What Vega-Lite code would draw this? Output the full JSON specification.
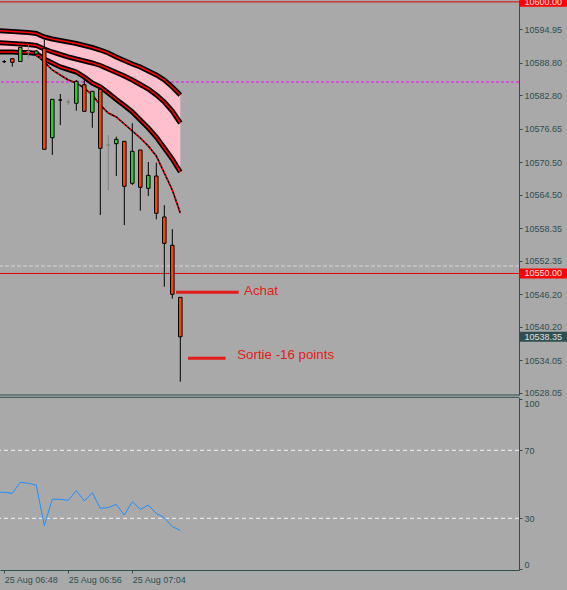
{
  "$schema": "https://vega.github.io/schema/vega-lite/v6.json",
  "width": 519,
  "height": 570,
  "autosize": {"type": "none"},
  "padding": {"left": 0, "top": 0, "right": 48, "bottom": 20},
  "background": "#A9A9A9",
  "config": {
    "view": {"stroke": null},
    "font": "Liberation Sans",
    "axisX": {"grid": false, "labelAlign": "left", "labelBaseline": "top", "tickSize": 3, "labelPadding": 2, "labelFlush": false, "labelOverlap": false, "domainColor": "#2F4F4F", "tickColor": "#2F4F4F", "labelColor": "#2F4F4F", "labelFontSize": 9, "labelFont": "Liberation Sans"},
    "axisY": {"grid": false, "tickSize": 3, "labelPadding": 2, "domainColor": "#2F4F4F", "tickColor": "#2F4F4F", "labelColor": "#2F4F4F", "labelFontSize": 9, "labelFont": "Liberation Sans", "labelOverlap": false}
  },
  "datasets": {
    "bars": [
      {"t": "2016-08-25T06:48:00", "o": 10588.99, "h": 10589.30, "l": 10588.75, "c": 10588.99, "type": "doji"},
      {"t": "2016-08-25T06:49:00", "o": 10589.54, "h": 10589.54, "l": 10588.07, "c": 10588.87, "type": "bear"},
      {"t": "2016-08-25T06:50:00", "o": 10589.02, "h": 10591.64, "l": 10589.02, "c": 10591.64, "type": "bull"},
      {"t": "2016-08-25T06:51:00", "o": 10590.83, "h": 10592.06, "l": 10589.61, "c": 10590.83, "type": "gdoji"},
      {"t": "2016-08-25T06:52:00", "o": 10590.40, "h": 10591.14, "l": 10590.22, "c": 10590.95, "type": "bull"},
      {"t": "2016-08-25T06:53:00", "o": 10591.45, "h": 10592.98, "l": 10572.86, "c": 10572.86, "type": "bear"},
      {"t": "2016-08-25T06:54:00", "o": 10574.99, "h": 10582.06, "l": 10571.81, "c": 10582.06, "type": "bull"},
      {"t": "2016-08-25T06:55:00", "o": 10581.93, "h": 10583.04, "l": 10577.33, "c": 10581.93, "type": "doji"},
      {"t": "2016-08-25T06:56:00", "o": 10581.57, "h": 10582.06, "l": 10581.01, "c": 10581.57, "type": "gdoji"},
      {"t": "2016-08-25T06:57:00", "o": 10581.33, "h": 10585.60, "l": 10579.96, "c": 10585.38, "type": "bull"},
      {"t": "2016-08-25T06:58:00", "o": 10584.75, "h": 10585.80, "l": 10579.85, "c": 10579.85, "type": "bear"},
      {"t": "2016-08-25T06:59:00", "o": 10579.67, "h": 10583.59, "l": 10576.83, "c": 10583.54, "type": "bull"},
      {"t": "2016-08-25T07:00:00", "o": 10583.90, "h": 10583.90, "l": 10560.76, "c": 10573.04, "type": "bear"},
      {"t": "2016-08-25T07:01:00", "o": 10573.65, "h": 10575.49, "l": 10565.37, "c": 10573.65, "type": "gdoji"},
      {"t": "2016-08-25T07:02:00", "o": 10573.89, "h": 10575.18, "l": 10567.94, "c": 10574.70, "type": "bull"},
      {"t": "2016-08-25T07:03:00", "o": 10574.33, "h": 10574.33, "l": 10558.92, "c": 10566.05, "type": "bear"},
      {"t": "2016-08-25T07:04:00", "o": 10566.60, "h": 10577.65, "l": 10566.29, "c": 10572.49, "type": "bull"},
      {"t": "2016-08-25T07:05:00", "o": 10572.73, "h": 10572.73, "l": 10561.56, "c": 10565.86, "type": "bear"},
      {"t": "2016-08-25T07:06:00", "o": 10565.68, "h": 10570.52, "l": 10564.26, "c": 10568.07, "type": "bull"},
      {"t": "2016-08-25T07:07:00", "o": 10567.94, "h": 10570.39, "l": 10559.97, "c": 10561.08, "type": "bear"},
      {"t": "2016-08-25T07:08:00", "o": 10560.40, "h": 10562.60, "l": 10547.56, "c": 10555.55, "type": "bear"},
      {"t": "2016-08-25T07:09:00", "o": 10555.19, "h": 10558.16, "l": 10545.35, "c": 10546.17, "type": "bear"},
      {"t": "2016-08-25T07:10:00", "o": 10545.61, "h": 10545.61, "l": 10530.07, "c": 10538.35, "type": "bear"}
    ],
    "ma": [
      {"t": "2016-08-25T06:47:00", "ma1": 10594.73, "ma2": 10592.52, "ma3": 10590.77},
      {"t": "2016-08-25T06:48:00", "ma1": 10594.64, "ma2": 10592.43, "ma3": 10590.77},
      {"t": "2016-08-25T06:49:00", "ma1": 10594.54, "ma2": 10592.34, "ma3": 10590.77},
      {"t": "2016-08-25T06:50:00", "ma1": 10594.45, "ma2": 10592.24, "ma3": 10590.68},
      {"t": "2016-08-25T06:51:00", "ma1": 10594.36, "ma2": 10592.15, "ma3": 10590.68},
      {"t": "2016-08-25T06:52:00", "ma1": 10594.18, "ma2": 10591.97, "ma3": 10590.50},
      {"t": "2016-08-25T06:53:00", "ma1": 10593.53, "ma2": 10591.32, "ma3": 10589.48},
      {"t": "2016-08-25T06:54:00", "ma1": 10593.16, "ma2": 10590.77, "ma3": 10588.75},
      {"t": "2016-08-25T06:55:00", "ma1": 10592.89, "ma2": 10590.31, "ma3": 10588.01},
      {"t": "2016-08-25T06:56:00", "ma1": 10592.61, "ma2": 10589.85, "ma3": 10587.55},
      {"t": "2016-08-25T06:57:00", "ma1": 10592.34, "ma2": 10589.48, "ma3": 10587.09},
      {"t": "2016-08-25T06:58:00", "ma1": 10591.97, "ma2": 10589.11, "ma3": 10586.17},
      {"t": "2016-08-25T06:59:00", "ma1": 10591.60, "ma2": 10588.75, "ma3": 10585.06},
      {"t": "2016-08-25T07:00:00", "ma1": 10591.14, "ma2": 10588.29, "ma3": 10584.33},
      {"t": "2016-08-25T07:01:00", "ma1": 10590.59, "ma2": 10587.64, "ma3": 10583.22},
      {"t": "2016-08-25T07:02:00", "ma1": 10589.85, "ma2": 10587.00, "ma3": 10582.03},
      {"t": "2016-08-25T07:03:00", "ma1": 10589.21, "ma2": 10586.35, "ma3": 10580.92},
      {"t": "2016-08-25T07:04:00", "ma1": 10588.56, "ma2": 10585.62, "ma3": 10579.73},
      {"t": "2016-08-25T07:05:00", "ma1": 10588.01, "ma2": 10584.79, "ma3": 10578.25},
      {"t": "2016-08-25T07:06:00", "ma1": 10587.27, "ma2": 10583.96, "ma3": 10576.78},
      {"t": "2016-08-25T07:07:00", "ma1": 10586.54, "ma2": 10582.86, "ma3": 10575.12},
      {"t": "2016-08-25T07:08:00", "ma1": 10585.62, "ma2": 10581.57, "ma3": 10573.10},
      {"t": "2016-08-25T07:09:00", "ma1": 10584.33, "ma2": 10579.91, "ma3": 10571.07},
      {"t": "2016-08-25T07:10:00", "ma1": 10582.86, "ma2": 10577.70, "ma3": 10568.68}
    ],
    "ma4": [
      {"t": "2016-08-25T06:52:00", "p": 10590.22},
      {"t": "2016-08-25T06:53:00", "p": 10588.93},
      {"t": "2016-08-25T06:54:00", "p": 10587.46},
      {"t": "2016-08-25T06:55:00", "p": 10586.54},
      {"t": "2016-08-25T06:56:00", "p": 10585.62},
      {"t": "2016-08-25T06:57:00", "p": 10585.06},
      {"t": "2016-08-25T06:58:00", "p": 10584.14},
      {"t": "2016-08-25T06:59:00", "p": 10582.86},
      {"t": "2016-08-25T07:00:00", "p": 10581.01},
      {"t": "2016-08-25T07:01:00", "p": 10579.54},
      {"t": "2016-08-25T07:02:00", "p": 10578.81},
      {"t": "2016-08-25T07:03:00", "p": 10577.52},
      {"t": "2016-08-25T07:04:00", "p": 10576.23},
      {"t": "2016-08-25T07:05:00", "p": 10574.94},
      {"t": "2016-08-25T07:06:00", "p": 10573.47},
      {"t": "2016-08-25T07:07:00", "p": 10571.63},
      {"t": "2016-08-25T07:08:00", "p": 10568.50},
      {"t": "2016-08-25T07:09:00", "p": 10565.37},
      {"t": "2016-08-25T07:10:00", "p": 10561.13}
    ],
    "rsi": [
      {"t": "2016-08-25T06:47:00", "v": 45.3},
      {"t": "2016-08-25T06:48:00", "v": 45.3},
      {"t": "2016-08-25T06:49:00", "v": 44.7},
      {"t": "2016-08-25T06:50:00", "v": 51.2},
      {"t": "2016-08-25T06:51:00", "v": 50.6},
      {"t": "2016-08-25T06:52:00", "v": 49.6},
      {"t": "2016-08-25T06:53:00", "v": 25.7},
      {"t": "2016-08-25T06:54:00", "v": 41.2},
      {"t": "2016-08-25T06:55:00", "v": 41.2},
      {"t": "2016-08-25T06:56:00", "v": 40.6},
      {"t": "2016-08-25T06:57:00", "v": 46.3},
      {"t": "2016-08-25T06:58:00", "v": 40.2},
      {"t": "2016-08-25T06:59:00", "v": 45.1},
      {"t": "2016-08-25T07:00:00", "v": 35.9},
      {"t": "2016-08-25T07:01:00", "v": 36.3},
      {"t": "2016-08-25T07:02:00", "v": 38.2},
      {"t": "2016-08-25T07:03:00", "v": 31.9},
      {"t": "2016-08-25T07:04:00", "v": 39.8},
      {"t": "2016-08-25T07:05:00", "v": 35.3},
      {"t": "2016-08-25T07:06:00", "v": 37.8},
      {"t": "2016-08-25T07:07:00", "v": 32.9},
      {"t": "2016-08-25T07:08:00", "v": 30.4},
      {"t": "2016-08-25T07:09:00", "v": 25.1},
      {"t": "2016-08-25T07:10:00", "v": 22.9}
    ],
    "levels": [
      {"p": 10600.00, "kind": "level"},
      {"p": 10550.00, "kind": "level"},
      {"p": 10538.35, "kind": "bid"}
    ],
    "trades": [
      {"t": "2016-08-25T07:09:28", "t2": "2016-08-25T07:17:18", "p": 10546.53},
      {"t": "2016-08-25T07:10:58", "t2": "2016-08-25T07:15:40", "p": 10534.38}
    ],
    "notes": [
      {"t": "2016-08-25T07:17:58", "p": 10546.83, "label": "Achat"},
      {"t": "2016-08-25T07:17:07", "p": 10534.99, "label": "Sortie -16 points"}
    ]
  },
  "layer": [
    {
      "layer": [
        {
          "data": {"values": [{"p": 10585.25}]},
          "mark": {"type": "rule", "color": "#FF00FF", "strokeWidth": 1, "strokeDash": [3, 2]},
          "encoding": {"y": {"field": "p", "type": "quantitative", "scale": {"domain": [10527.63, 10600.344], "range": [395, 0], "nice": false, "zero": false, "padding": 0}, "axis": {"orient": "right", "values": [10594.95, 10588.8, 10582.8, 10576.65, 10570.5, 10564.5, 10558.35, 10552.35, 10546.2, 10540.2, 10534.05, 10528.05], "format": ".2f", "title": null}}}
        },
        {
          "data": {"values": [{"p": 10551.38}]},
          "mark": {"type": "rule", "color": "#D8D8D8", "strokeWidth": 1, "strokeDash": [4, 2]},
          "encoding": {"y": {"field": "p", "type": "quantitative", "scale": {"domain": [10527.63, 10600.344], "range": [395, 0], "nice": false, "zero": false, "padding": 0}, "axis": {"orient": "right", "values": [10594.95, 10588.8, 10582.8, 10576.65, 10570.5, 10564.5, 10558.35, 10552.35, 10546.2, 10540.2, 10534.05, 10528.05], "format": ".2f", "title": null}}}
        },
        {
          "data": {"name": "levels"},
          "transform": [{"filter": "datum.kind === 'level'"}],
          "mark": {"type": "rule", "color": "#E00000", "strokeWidth": 1},
          "encoding": {"y": {"field": "p", "type": "quantitative", "scale": {"domain": [10527.63, 10600.344], "range": [395, 0], "nice": false, "zero": false, "padding": 0}, "axis": {"orient": "right", "values": [10594.95, 10588.8, 10582.8, 10576.65, 10570.5, 10564.5, 10558.35, 10552.35, 10546.2, 10540.2, 10534.05, 10528.05], "format": ".2f", "title": null}}}
        },
        {
          "data": {"name": "ma"},
          "mark": {"type": "area", "color": "#FFC0CB", "opacity": 1},
          "encoding": {
            "x": {"field": "t", "type": "temporal", "scale": {"domain": [{"year": 2016, "month": 8, "date": 25, "hours": 6, "minutes": 47, "seconds": 27, "milliseconds": 750}, {"year": 2016, "month": 8, "date": 25, "hours": 7, "minutes": 52, "seconds": 20, "milliseconds": 250}], "padding": 0}, "axis": {"values": [{"year": 2016, "month": 8, "date": 25, "hours": 6, "minutes": 48}, {"year": 2016, "month": 8, "date": 25, "hours": 6, "minutes": 56}, {"year": 2016, "month": 8, "date": 25, "hours": 7, "minutes": 4}], "format": "%d %b %H:%M", "title": null}},
            "y": {"field": "ma1", "type": "quantitative", "scale": {"domain": [10527.63, 10600.344], "range": [395, 0], "nice": false, "zero": false, "padding": 0}, "axis": {"orient": "right", "values": [10594.95, 10588.8, 10582.8, 10576.65, 10570.5, 10564.5, 10558.35, 10552.35, 10546.2, 10540.2, 10534.05, 10528.05], "format": ".2f", "title": null}},
            "y2": {"field": "ma3"}
          }
        },
        {
          "data": {"name": "ma"},
          "transform": [{"fold": ["ma1", "ma2", "ma3"], "as": ["k", "pv"]}],
          "mark": {"type": "line", "color": "#000000", "strokeWidth": 5},
          "encoding": {
            "x": {"field": "t", "type": "temporal", "scale": {"domain": [{"year": 2016, "month": 8, "date": 25, "hours": 6, "minutes": 47, "seconds": 27, "milliseconds": 750}, {"year": 2016, "month": 8, "date": 25, "hours": 7, "minutes": 52, "seconds": 20, "milliseconds": 250}], "padding": 0}, "axis": {"values": [{"year": 2016, "month": 8, "date": 25, "hours": 6, "minutes": 48}, {"year": 2016, "month": 8, "date": 25, "hours": 6, "minutes": 56}, {"year": 2016, "month": 8, "date": 25, "hours": 7, "minutes": 4}], "format": "%d %b %H:%M", "title": null}},
            "y": {"field": "pv", "type": "quantitative", "scale": {"domain": [10527.63, 10600.344], "range": [395, 0], "nice": false, "zero": false, "padding": 0}, "axis": {"orient": "right", "values": [10594.95, 10588.8, 10582.8, 10576.65, 10570.5, 10564.5, 10558.35, 10552.35, 10546.2, 10540.2, 10534.05, 10528.05], "format": ".2f", "title": null}},
            "detail": {"field": "k"}
          }
        },
        {
          "data": {"name": "ma"},
          "transform": [{"fold": ["ma1", "ma2", "ma3"], "as": ["k", "pv"]}],
          "mark": {"type": "line", "color": "#FF0000", "strokeWidth": 1.5},
          "encoding": {
            "x": {"field": "t", "type": "temporal", "scale": {"domain": [{"year": 2016, "month": 8, "date": 25, "hours": 6, "minutes": 47, "seconds": 27, "milliseconds": 750}, {"year": 2016, "month": 8, "date": 25, "hours": 7, "minutes": 52, "seconds": 20, "milliseconds": 250}], "padding": 0}, "axis": {"values": [{"year": 2016, "month": 8, "date": 25, "hours": 6, "minutes": 48}, {"year": 2016, "month": 8, "date": 25, "hours": 6, "minutes": 56}, {"year": 2016, "month": 8, "date": 25, "hours": 7, "minutes": 4}], "format": "%d %b %H:%M", "title": null}},
            "y": {"field": "pv", "type": "quantitative", "scale": {"domain": [10527.63, 10600.344], "range": [395, 0], "nice": false, "zero": false, "padding": 0}, "axis": {"orient": "right", "values": [10594.95, 10588.8, 10582.8, 10576.65, 10570.5, 10564.5, 10558.35, 10552.35, 10546.2, 10540.2, 10534.05, 10528.05], "format": ".2f", "title": null}},
            "detail": {"field": "k"}
          }
        },
        {
          "data": {"name": "ma4"},
          "mark": {"type": "line", "color": "#000000", "strokeWidth": 1.6},
          "encoding": {
            "x": {"field": "t", "type": "temporal", "scale": {"domain": [{"year": 2016, "month": 8, "date": 25, "hours": 6, "minutes": 47, "seconds": 27, "milliseconds": 750}, {"year": 2016, "month": 8, "date": 25, "hours": 7, "minutes": 52, "seconds": 20, "milliseconds": 250}], "padding": 0}, "axis": {"values": [{"year": 2016, "month": 8, "date": 25, "hours": 6, "minutes": 48}, {"year": 2016, "month": 8, "date": 25, "hours": 6, "minutes": 56}, {"year": 2016, "month": 8, "date": 25, "hours": 7, "minutes": 4}], "format": "%d %b %H:%M", "title": null}},
            "y": {"field": "p", "type": "quantitative", "scale": {"domain": [10527.63, 10600.344], "range": [395, 0], "nice": false, "zero": false, "padding": 0}, "axis": {"orient": "right", "values": [10594.95, 10588.8, 10582.8, 10576.65, 10570.5, 10564.5, 10558.35, 10552.35, 10546.2, 10540.2, 10534.05, 10528.05], "format": ".2f", "title": null}}
          }
        },
        {
          "data": {"name": "ma4"},
          "mark": {"type": "line", "color": "#FF0000", "strokeWidth": 1.6, "strokeDash": [2, 2]},
          "encoding": {
            "x": {"field": "t", "type": "temporal", "scale": {"domain": [{"year": 2016, "month": 8, "date": 25, "hours": 6, "minutes": 47, "seconds": 27, "milliseconds": 750}, {"year": 2016, "month": 8, "date": 25, "hours": 7, "minutes": 52, "seconds": 20, "milliseconds": 250}], "padding": 0}, "axis": {"values": [{"year": 2016, "month": 8, "date": 25, "hours": 6, "minutes": 48}, {"year": 2016, "month": 8, "date": 25, "hours": 6, "minutes": 56}, {"year": 2016, "month": 8, "date": 25, "hours": 7, "minutes": 4}], "format": "%d %b %H:%M", "title": null}},
            "y": {"field": "p", "type": "quantitative", "scale": {"domain": [10527.63, 10600.344], "range": [395, 0], "nice": false, "zero": false, "padding": 0}, "axis": {"orient": "right", "values": [10594.95, 10588.8, 10582.8, 10576.65, 10570.5, 10564.5, 10558.35, 10552.35, 10546.2, 10540.2, 10534.05, 10528.05], "format": ".2f", "title": null}}
          }
        },
        {
          "data": {"name": "bars"},
          "mark": {"type": "rule", "strokeWidth": 1},
          "encoding": {
            "x": {"field": "t", "type": "temporal", "scale": {"domain": [{"year": 2016, "month": 8, "date": 25, "hours": 6, "minutes": 47, "seconds": 27, "milliseconds": 750}, {"year": 2016, "month": 8, "date": 25, "hours": 7, "minutes": 52, "seconds": 20, "milliseconds": 250}], "padding": 0}, "axis": {"values": [{"year": 2016, "month": 8, "date": 25, "hours": 6, "minutes": 48}, {"year": 2016, "month": 8, "date": 25, "hours": 6, "minutes": 56}, {"year": 2016, "month": 8, "date": 25, "hours": 7, "minutes": 4}], "format": "%d %b %H:%M", "title": null}},
            "y": {"field": "l", "type": "quantitative", "scale": {"domain": [10527.63, 10600.344], "range": [395, 0], "nice": false, "zero": false, "padding": 0}, "axis": {"orient": "right", "values": [10594.95, 10588.8, 10582.8, 10576.65, 10570.5, 10564.5, 10558.35, 10552.35, 10546.2, 10540.2, 10534.05, 10528.05], "format": ".2f", "title": null}},
            "y2": {"field": "h"},
            "stroke": {"field": "type", "type": "nominal", "scale": {"domain": ["bull", "bear", "doji", "gdoji"], "range": ["#000000", "#000000", "#000000", "#808080"]}, "legend": null}
          }
        },
        {
          "data": {"name": "bars"},
          "mark": {"type": "bar", "size": 3.5, "strokeWidth": 1, "opacity": 1},
          "encoding": {
            "x": {"field": "t", "type": "temporal", "scale": {"domain": [{"year": 2016, "month": 8, "date": 25, "hours": 6, "minutes": 47, "seconds": 27, "milliseconds": 750}, {"year": 2016, "month": 8, "date": 25, "hours": 7, "minutes": 52, "seconds": 20, "milliseconds": 250}], "padding": 0}, "axis": {"values": [{"year": 2016, "month": 8, "date": 25, "hours": 6, "minutes": 48}, {"year": 2016, "month": 8, "date": 25, "hours": 6, "minutes": 56}, {"year": 2016, "month": 8, "date": 25, "hours": 7, "minutes": 4}], "format": "%d %b %H:%M", "title": null}},
            "y": {"field": "o", "type": "quantitative", "scale": {"domain": [10527.63, 10600.344], "range": [395, 0], "nice": false, "zero": false, "padding": 0}, "axis": {"orient": "right", "values": [10594.95, 10588.8, 10582.8, 10576.65, 10570.5, 10564.5, 10558.35, 10552.35, 10546.2, 10540.2, 10534.05, 10528.05], "format": ".2f", "title": null}},
            "y2": {"field": "c"},
            "fill": {"field": "type", "type": "nominal", "scale": {"domain": ["bull", "bear", "doji", "gdoji"], "range": ["#32CD32", "#FF4500", "#000000", "#808080"]}, "legend": null},
            "stroke": {"field": "type", "type": "nominal", "scale": {"domain": ["bull", "bear", "doji", "gdoji"], "range": ["#000000", "#000000", "#000000", "#808080"]}, "legend": null}
          }
        },
        {
          "data": {"values": [{"p": 10527.63}]},
          "mark": {"type": "rule", "color": "#2F4F4F", "strokeWidth": 1},
          "encoding": {"y": {"field": "p", "type": "quantitative", "scale": {"domain": [10527.63, 10600.344], "range": [395, 0], "nice": false, "zero": false, "padding": 0}, "axis": {"orient": "right", "values": [10594.95, 10588.8, 10582.8, 10576.65, 10570.5, 10564.5, 10558.35, 10552.35, 10546.2, 10540.2, 10534.05, 10528.05], "format": ".2f", "title": null}}}
        },
        {
          "data": {"name": "trades"},
          "mark": {"type": "rule", "color": "#E41B1B", "strokeWidth": 3},
          "encoding": {
            "x": {"field": "t", "type": "temporal", "scale": {"domain": [{"year": 2016, "month": 8, "date": 25, "hours": 6, "minutes": 47, "seconds": 27, "milliseconds": 750}, {"year": 2016, "month": 8, "date": 25, "hours": 7, "minutes": 52, "seconds": 20, "milliseconds": 250}], "padding": 0}, "axis": {"values": [{"year": 2016, "month": 8, "date": 25, "hours": 6, "minutes": 48}, {"year": 2016, "month": 8, "date": 25, "hours": 6, "minutes": 56}, {"year": 2016, "month": 8, "date": 25, "hours": 7, "minutes": 4}], "format": "%d %b %H:%M", "title": null}},
            "x2": {"field": "t2"},
            "y": {"field": "p", "type": "quantitative", "scale": {"domain": [10527.63, 10600.344], "range": [395, 0], "nice": false, "zero": false, "padding": 0}, "axis": {"orient": "right", "values": [10594.95, 10588.8, 10582.8, 10576.65, 10570.5, 10564.5, 10558.35, 10552.35, 10546.2, 10540.2, 10534.05, 10528.05], "format": ".2f", "title": null}}
          }
        },
        {
          "data": {"name": "notes"},
          "mark": {"type": "text", "color": "#E41B1B", "fontSize": 13.3, "font": "Liberation Sans", "align": "left", "baseline": "middle"},
          "encoding": {
            "x": {"field": "t", "type": "temporal", "scale": {"domain": [{"year": 2016, "month": 8, "date": 25, "hours": 6, "minutes": 47, "seconds": 27, "milliseconds": 750}, {"year": 2016, "month": 8, "date": 25, "hours": 7, "minutes": 52, "seconds": 20, "milliseconds": 250}], "padding": 0}, "axis": {"values": [{"year": 2016, "month": 8, "date": 25, "hours": 6, "minutes": 48}, {"year": 2016, "month": 8, "date": 25, "hours": 6, "minutes": 56}, {"year": 2016, "month": 8, "date": 25, "hours": 7, "minutes": 4}], "format": "%d %b %H:%M", "title": null}},
            "y": {"field": "p", "type": "quantitative", "scale": {"domain": [10527.63, 10600.344], "range": [395, 0], "nice": false, "zero": false, "padding": 0}, "axis": {"orient": "right", "values": [10594.95, 10588.8, 10582.8, 10576.65, 10570.5, 10564.5, 10558.35, 10552.35, 10546.2, 10540.2, 10534.05, 10528.05], "format": ".2f", "title": null}},
            "text": {"field": "label", "type": "nominal"}
          }
        },
        {
          "data": {"name": "levels"},
          "mark": {"type": "bar", "orient": "horizontal", "size": 10, "opacity": 1},
          "encoding": {
            "x": {"datum": {"year": 2016, "month": 8, "date": 25, "hours": 7, "minutes": 52, "seconds": 24}, "type": "temporal", "scale": {"domain": [{"year": 2016, "month": 8, "date": 25, "hours": 6, "minutes": 47, "seconds": 27, "milliseconds": 750}, {"year": 2016, "month": 8, "date": 25, "hours": 7, "minutes": 52, "seconds": 20, "milliseconds": 250}], "padding": 0}, "axis": {"values": [{"year": 2016, "month": 8, "date": 25, "hours": 6, "minutes": 48}, {"year": 2016, "month": 8, "date": 25, "hours": 6, "minutes": 56}, {"year": 2016, "month": 8, "date": 25, "hours": 7, "minutes": 4}], "format": "%d %b %H:%M", "title": null}},
            "x2": {"datum": {"year": 2016, "month": 8, "date": 25, "hours": 7, "minutes": 58, "seconds": 40}},
            "y": {"field": "p", "type": "quantitative", "scale": {"domain": [10527.63, 10600.344], "range": [395, 0], "nice": false, "zero": false, "padding": 0}, "axis": {"orient": "right", "values": [10594.95, 10588.8, 10582.8, 10576.65, 10570.5, 10564.5, 10558.35, 10552.35, 10546.2, 10540.2, 10534.05, 10528.05], "format": ".2f", "title": null}},
            "fill": {"field": "kind", "type": "nominal", "scale": {"domain": ["level", "bid"], "range": ["#FF0000", "#2F4F4F"]}, "legend": null}
          }
        },
        {
          "data": {"name": "levels"},
          "mark": {"type": "text", "fontSize": 9, "font": "Liberation Sans", "align": "left", "baseline": "middle"},
          "encoding": {
            "x": {"datum": {"year": 2016, "month": 8, "date": 25, "hours": 7, "minutes": 53, "seconds": 1, "milliseconds": 500}, "type": "temporal", "scale": {"domain": [{"year": 2016, "month": 8, "date": 25, "hours": 6, "minutes": 47, "seconds": 27, "milliseconds": 750}, {"year": 2016, "month": 8, "date": 25, "hours": 7, "minutes": 52, "seconds": 20, "milliseconds": 250}], "padding": 0}, "axis": {"values": [{"year": 2016, "month": 8, "date": 25, "hours": 6, "minutes": 48}, {"year": 2016, "month": 8, "date": 25, "hours": 6, "minutes": 56}, {"year": 2016, "month": 8, "date": 25, "hours": 7, "minutes": 4}], "format": "%d %b %H:%M", "title": null}},
            "y": {"field": "p", "type": "quantitative", "scale": {"domain": [10527.63, 10600.344], "range": [395, 0], "nice": false, "zero": false, "padding": 0}, "axis": {"orient": "right", "values": [10594.95, 10588.8, 10582.8, 10576.65, 10570.5, 10564.5, 10558.35, 10552.35, 10546.2, 10540.2, 10534.05, 10528.05], "format": ".2f", "title": null}},
            "text": {"field": "p", "type": "quantitative", "format": ".2f"},
            "color": {"field": "kind", "type": "nominal", "scale": {"domain": ["level", "bid"], "range": ["#FFE8E8", "#E0E0E0"]}, "legend": null}
          }
        }
      ],
      "resolve": {"scale": {"fill": "independent", "stroke": "independent", "color": "independent"}}
    },
    {
      "layer": [
        {
          "data": {"values": [{"v": 70}, {"v": 30}]},
          "mark": {"type": "rule", "color": "#F4F4F4", "strokeWidth": 1, "strokeDash": [4, 3]},
          "encoding": {"y": {"field": "v", "type": "quantitative", "scale": {"domain": [-0.4, 101.2], "range": [570, 397.3], "nice": false, "zero": false, "padding": 0}, "axis": {"orient": "right", "values": [0, 30, 70, 100], "title": null, "labelFlush": 3}}}
        },
        {
          "data": {"name": "rsi"},
          "mark": {"type": "line", "color": "#1E90FF", "strokeWidth": 1},
          "encoding": {
            "x": {"field": "t", "type": "temporal", "scale": {"domain": [{"year": 2016, "month": 8, "date": 25, "hours": 6, "minutes": 47, "seconds": 27, "milliseconds": 750}, {"year": 2016, "month": 8, "date": 25, "hours": 7, "minutes": 52, "seconds": 20, "milliseconds": 250}], "padding": 0}, "axis": {"values": [{"year": 2016, "month": 8, "date": 25, "hours": 6, "minutes": 48}, {"year": 2016, "month": 8, "date": 25, "hours": 6, "minutes": 56}, {"year": 2016, "month": 8, "date": 25, "hours": 7, "minutes": 4}], "format": "%d %b %H:%M", "title": null}},
            "y": {"field": "v", "type": "quantitative", "scale": {"domain": [-0.4, 101.2], "range": [570, 397.3], "nice": false, "zero": false, "padding": 0}, "axis": {"orient": "right", "values": [0, 30, 70, 100], "title": null, "labelFlush": 3}}
          }
        },
        {
          "data": {"values": [{"v": 101.2}]},
          "mark": {"type": "rule", "color": "#2F4F4F", "strokeWidth": 1},
          "encoding": {"y": {"field": "v", "type": "quantitative", "scale": {"domain": [-0.4, 101.2], "range": [570, 397.3], "nice": false, "zero": false, "padding": 0}, "axis": {"orient": "right", "values": [0, 30, 70, 100], "title": null, "labelFlush": 3}}}
        }
      ]
    }
  ],
  "resolve": {"scale": {"y": "independent"}, "axis": {"y": "independent"}}
}
